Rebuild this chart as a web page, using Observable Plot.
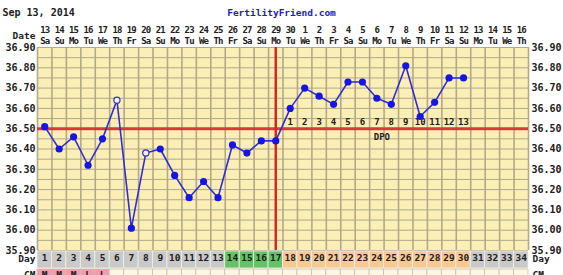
<!DOCTYPE html>
<html>
<head>
<meta charset="utf-8">
<script src="https://cdn.jsdelivr.net/npm/d3@7"></script>
<script src="https://cdn.jsdelivr.net/npm/@observablehq/plot@0.6"></script>
<style>
  html, body { margin: 0; padding: 0; background: #ffffff; }
  #chart svg { display: block; background: #fcf3cc; border-top-right-radius: 12px; }
  #chart g[aria-description="hdr"] text, #chart text[aria-label="hdr"] { letter-spacing: -0.9px; }
</style>
</head>
<body>
<div id="chart"></div>
<script>
// ---- data ----
const chartDate = "Sep 13, 2014";
const siteName = "FertilityFriend.com";
const cycleDays = d3.range(1, 35);
const dateLabels = ["13","14","15","16","17","18","19","20","21","22","23","24","25","26","27","28","29","30",
  "1","2","3","4","5","6","7","8","9","10","11","12","13","14","15","16"];
const weekdayLabels = ["Sa","Su","Mo","Tu","We","Th","Fr","Sa","Su","Mo","Tu","We","Th","Fr","Sa","Su","Mo",
  "Tu","We","Th","Fr","Sa","Su","Mo","Tu","We","Th","Fr","Sa","Su","Mo","Tu","We","Th"];
const temps = [36.51,36.40,36.46,36.32,36.45,36.64,36.01,36.38,36.40,36.27,36.16,36.24,36.16,
  36.42,36.38,36.44,36.44,36.60,36.70,36.66,36.62,36.73,36.73,36.65,36.62,36.81,36.56,36.63,36.75,36.75];
const discardedDays = [6, 8];
const coverline = 36.50;
const ovulationDay = 17;
const dpoLabels = ["1","2","3","4","5","6","7","8","9","10","11","12","13"];
const phases = ["base","base","base","base","base","base","base","base","base","base","base","base","base",
  "fertile","fertile","fertile","fertile",
  "luteal","luteal","luteal","luteal","luteal","luteal","luteal","luteal","luteal","luteal","luteal","luteal","luteal",
  "future","future","future","future"];
const cmLabels = ["M","M","M","L","L"];
const tempDomain = [35.90, 36.90];

// ---- derived tables ----
const dayRows = cycleDays.map((d, i) => ({day: d, date: dateLabels[i], wd: weekdayLabels[i], phase: phases[i], cm: cmLabels[i] || ""}));
const tempRows = temps.map((t, i) => ({day: i + 1, temp: t, open: discardedDays.includes(i + 1)}));
const dpoRows = dpoLabels.map((l, i) => ({day: ovulationDay + 1 + i, label: l}));
const colBounds = cycleDays.map(d => d - 0.5).concat([cycleDays[cycleDays.length - 1] + 0.5]);
const minorTicks = d3.range(0, 21).map(i => +(tempDomain[0] + i * 0.05).toFixed(2));
const majorTicks = d3.range(0, 11).map(i => +(tempDomain[0] + i * 0.1).toFixed(2));
const phaseColor = {base: "#c9c9c9", fertile: "#66c266", luteal: "#f9c994", future: "#c9c9c9"};

const mono = "'DejaVu Sans Mono', monospace";
const ink = "#202020";

const chart = Plot.plot({
  width: 563,
  height: 275,
  marginLeft: 37,
  marginRight: 35,
  marginTop: 47,
  marginBottom: 25,
  style: {background: "transparent", fontFamily: mono, fontWeight: "bold", overflow: "hidden"},
  x: {type: "linear", domain: [colBounds[0], colBounds[colBounds.length - 1]], axis: null},
  y: {domain: tempDomain, axis: null},
  marks: [
    Plot.frame({fill: "#fcefb6"}),
    // grid
    Plot.ruleY(minorTicks, {stroke: "#8c8a7c", strokeWidth: 0.7}),
    Plot.ruleX(colBounds, {stroke: "#b3a987", strokeWidth: 1.6}),
    // y axes
    Plot.axisY({anchor: "left", label: null, ticks: majorTicks, tickSize: 0, tickPadding: 2, tickFormat: d3.format(".2f"),
      fontSize: 10, fontFamily: mono, fontWeight: "bold", fill: ink}),
    Plot.axisY({anchor: "right", label: null, ticks: majorTicks, tickSize: 0, tickPadding: 3, tickFormat: d3.format(".2f"),
      fontSize: 10, fontFamily: mono, fontWeight: "bold", fill: ink}),
    // header
    Plot.text([chartDate], {frameAnchor: "top-left", dx: -35, dy: -38.5, textAnchor: "start", fontSize: 10, fill: ink}),
    Plot.text([siteName], {frameAnchor: "top", dx: -1.5, dy: -38, fontSize: 9.5, fill: "#1b1bc8"}),
    Plot.text(["Date"], {frameAnchor: "top-left", dx: -2, dy: -15.5, textAnchor: "end", fontSize: 9.5, fill: ink}),
    Plot.text(dayRows, {x: "day", text: "date", frameAnchor: "top", dy: -20.5, fontSize: 9, fill: ink,
      ariaDescription: "hdr", ariaLabel: () => "hdr"}),
    Plot.text(dayRows, {x: "day", text: "wd", frameAnchor: "top", dy: -9.5, fontSize: 9, fill: ink,
      ariaDescription: "hdr", ariaLabel: () => "hdr"}),
    // bottom day row
    Plot.rect(dayRows, {x1: d => d.day - 0.5, x2: d => d.day + 0.5, y1: tempDomain[0], y2: tempDomain[0],
      insetTop: 1, insetBottom: -18, fill: d => phaseColor[d.phase], stroke: "#f4efe0", strokeWidth: 0.8}),
    Plot.text(dayRows, {x: "day", text: "day", frameAnchor: "bottom", dy: 10.5, fontSize: 9.5, fill: ink}),
    Plot.text(["Day"], {frameAnchor: "bottom-left", dx: -2, dy: 11, textAnchor: "end", fontSize: 9.5, fill: ink}),
    Plot.text(["Day"], {frameAnchor: "bottom-right", dx: 4, dy: 11, textAnchor: "start", fontSize: 9.5, fill: ink}),
    // CM row (cut off by the chart edge, as in the original)
    Plot.rect(dayRows, {x1: d => d.day - 0.5, x2: d => d.day + 0.5, y1: tempDomain[0], y2: tempDomain[0],
      insetTop: 19, insetBottom: -40, fill: d => d.cm ? "#f49bb0" : "#fdf6e2", stroke: "#c8c0a8", strokeWidth: 0.8}),
    Plot.text(dayRows, {x: "day", text: "cm", frameAnchor: "bottom", dy: 27, fontSize: 9.5, fill: ink}),
    Plot.text(["CM"], {frameAnchor: "bottom-left", dx: -2, dy: 27, textAnchor: "end", fontSize: 9.5, fill: ink}),
    Plot.text(["CM"], {frameAnchor: "bottom-right", dx: 4, dy: 27, textAnchor: "start", fontSize: 9.5, fill: ink}),
    // coverline and ovulation line
    Plot.ruleY([coverline], {stroke: "#d83a35", strokeWidth: 3}),
    Plot.ruleX([ovulationDay], {stroke: "#e0201c", strokeWidth: 2.5}),
    // DPO labels
    Plot.text(dpoRows, {x: "day", y: () => coverline, text: "label", dy: -6.5, fontSize: 9, fill: ink}),
    Plot.text(["DPO"], {x: () => (dpoRows[0].day + dpoRows[dpoRows.length - 1].day) / 2, y: () => coverline,
      dx: 5, dy: 8, fontSize: 9, fill: ink}),
    // temperatures
    Plot.line(tempRows, {x: "day", y: "temp", stroke: "#2e2ed6", strokeWidth: 1.6}),
    Plot.dot(tempRows.filter(d => !d.open), {x: "day", y: "temp", r: 3.6, fill: "#1515e6", stroke: "none"}),
    Plot.dot(tempRows.filter(d => d.open), {x: "day", y: "temp", r: 3.1, fill: "#fbf3d8", stroke: "#2e2ed6", strokeWidth: 1.2})
  ]
});
document.getElementById("chart").appendChild(chart);
</script>
</body>
</html>
